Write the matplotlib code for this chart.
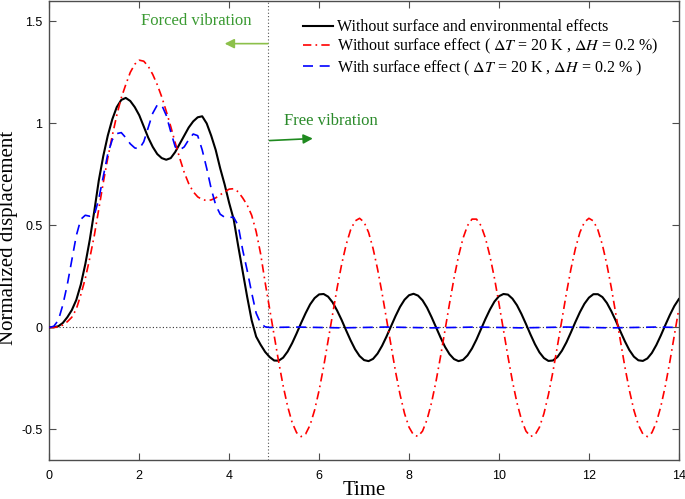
import numpy as np
import matplotlib
matplotlib.use("Agg")
import matplotlib.pyplot as plt

# === Data ===
t_black = [0.0, 0.1, 0.2, 0.3, 0.4, 0.5, 0.6, 0.7, 0.8, 0.9,
           1.0, 1.1, 1.2, 1.3, 1.4, 1.5, 1.6, 1.7, 1.8, 1.9,
           2.0, 2.1, 2.2, 2.3, 2.4, 2.5, 2.6, 2.7, 2.8, 2.9,
           3.0, 3.1, 3.2, 3.3, 3.4, 3.5, 3.6, 3.7, 3.8, 3.9,
           4.0, 4.1, 4.2, 4.3, 4.4, 4.5, 4.6, 4.7, 4.8, 4.9,
           5.0, 5.1, 5.2, 5.3, 5.4, 5.5, 5.6, 5.7, 5.8, 5.9,
           6.0, 6.1, 6.2, 6.3, 6.4, 6.5, 6.6, 6.7, 6.8, 6.9,
           7.0, 7.1, 7.2, 7.3, 7.4, 7.5, 7.6, 7.7, 7.8, 7.9,
           8.0, 8.1, 8.2, 8.3, 8.4, 8.5, 8.6, 8.7, 8.8, 8.9,
           9.0, 9.1, 9.2, 9.3, 9.4, 9.5, 9.6, 9.7, 9.8, 9.9,
           10.0, 10.1, 10.2, 10.3, 10.4, 10.5, 10.6, 10.7, 10.8, 10.9,
           11.0, 11.1, 11.2, 11.3, 11.4, 11.5, 11.6, 11.7, 11.8, 11.9,
           12.0, 12.1, 12.2, 12.3, 12.4, 12.5, 12.6, 12.7, 12.8, 12.9,
           13.0, 13.1, 13.2, 13.3, 13.4, 13.5, 13.6, 13.7, 13.8, 13.9,
           14.0]
y_black = [0.0, 0.001, 0.006, 0.022, 0.05, 0.085, 0.135, 0.21, 0.31, 0.43,
           0.57, 0.72, 0.84, 0.94, 1.02, 1.08, 1.115, 1.125, 1.11, 1.08,
           1.04, 0.985, 0.93, 0.885, 0.85, 0.83, 0.822, 0.83, 0.86, 0.9,
           0.94, 0.98, 1.01, 1.03, 1.035, 1.0, 0.94, 0.87, 0.78, 0.7,
           0.61, 0.53, 0.4, 0.275, 0.15, 0.035, -0.045, -0.085, -0.12, -0.145,
           -0.162, -0.163, -0.148, -0.118, -0.077, -0.029, 0.022, 0.07, 0.113, 0.144,
           0.162, 0.164, 0.151, 0.123, 0.083, 0.037, -0.014, -0.063, -0.107, -0.14,
           -0.16, -0.165, -0.154, -0.128, -0.09, -0.044, 0.006, 0.056, 0.101, 0.136,
           0.158, 0.165, 0.156, 0.133, 0.097, 0.051, 0.001, -0.049, -0.095, -0.131,
           -0.155, -0.165, -0.159, -0.137, -0.103, -0.059, -0.009, 0.042, 0.088, 0.127,
           0.153, 0.164, 0.161, 0.141, 0.109, 0.066, 0.017, -0.034, -0.082, -0.122,
           -0.15, -0.164, -0.162, -0.145, -0.114, -0.073, -0.024, 0.027, 0.075, 0.116,
           0.146, 0.163, 0.163, 0.149, 0.12, 0.079, 0.032, -0.019, -0.068, -0.111,
           -0.143, -0.161, -0.164, -0.152, -0.125, -0.086, -0.039, 0.012, 0.061, 0.105,
           0.139]

t_red = t_black
y_red = [0.0, 0.0, 0.003, 0.012, 0.028, 0.05, 0.09, 0.16, 0.24, 0.34,
         0.45, 0.58, 0.71, 0.83, 0.94, 1.04, 1.125, 1.19, 1.25, 1.29,
         1.31, 1.305, 1.28, 1.24, 1.19, 1.13, 1.06, 0.985, 0.905, 0.83,
         0.76, 0.705, 0.665, 0.64, 0.627, 0.622, 0.625, 0.635, 0.65, 0.665,
         0.678, 0.68, 0.665, 0.635, 0.6, 0.55, 0.47, 0.36, 0.22, 0.09,
         -0.039, -0.168, -0.286, -0.387, -0.466, -0.516, -0.535, -0.522, -0.478, -0.405,
         -0.308, -0.193, -0.065, 0.065, 0.193, 0.308, 0.405, 0.478, 0.522, 0.535,
         0.516, 0.466, 0.387, 0.286, 0.168, 0.039, -0.091, -0.217, -0.329, -0.422,
         -0.489, -0.527, -0.534, -0.508, -0.452, -0.369, -0.264, -0.143, -0.013, 0.117,
         0.241, 0.349, 0.437, 0.499, 0.531, 0.531, 0.499, 0.437, 0.349, 0.241,
         0.117, -0.013, -0.143, -0.264, -0.369, -0.452, -0.508, -0.534, -0.527, -0.489,
         -0.422, -0.329, -0.217, -0.091, 0.039, 0.168, 0.286, 0.387, 0.466, 0.516,
         0.535, 0.522, 0.478, 0.405, 0.308, 0.193, 0.065, -0.065, -0.193, -0.308,
         -0.405, -0.478, -0.522, -0.535, -0.516, -0.466, -0.387, -0.286, -0.168, -0.039,
         0.091]

t_blue = [0.0, 0.1, 0.2, 0.3, 0.4, 0.5, 0.6, 0.7, 0.8, 0.9,
          1.0, 1.1, 1.2, 1.3, 1.4, 1.5, 1.6, 1.7, 1.8, 1.9,
          2.0, 2.1, 2.2, 2.3, 2.4, 2.5, 2.6, 2.7, 2.8, 2.9,
          3.0, 3.1, 3.2, 3.3, 3.4, 3.5, 3.6, 3.7, 3.8, 3.9,
          4.0, 4.1, 4.2, 4.3, 4.4, 4.5, 4.6, 4.7, 4.8, 4.9,
          5.5, 6.5, 7.5, 8.5, 9.5, 10.5, 11.5, 12.5, 13.5, 14.0]
y_blue = [0.0, 0.006, 0.035, 0.11, 0.21, 0.33, 0.45, 0.53, 0.55, 0.545,
          0.55, 0.63, 0.74, 0.85, 0.92, 0.95, 0.955, 0.93, 0.9, 0.88,
          0.875, 0.91, 0.98, 1.05, 1.09, 1.09, 1.04, 0.96, 0.885, 0.87,
          0.885, 0.92, 0.948, 0.94, 0.87, 0.78, 0.68, 0.6, 0.555, 0.54,
          0.54, 0.54, 0.5, 0.38, 0.28, 0.17, 0.07, 0.02, 0.003, 0.0,
          0.002, -0.002, 0.002, -0.002, 0.002, -0.002, 0.002, -0.002, 0.002, 0.0]

t_switch = 4.86

labels = ["Without surface and environmental effects",
          r"Without surface effect ( $\Delta T$ = 20 K , $\Delta H$ = 0.2 %)",
          r"With surface effect ( $\Delta T$ = 20 K , $\Delta H$ = 0.2 % )"]

# === Style ===
plt.rcParams['mathtext.fontset'] = 'stix'
serif = ['Liberation Serif', 'DejaVu Serif']
sans = ['Liberation Sans', 'DejaVu Sans']
edge = '#4d4d4d'

fig = plt.figure(figsize=(6.85, 4.99), dpi=100)
ax = fig.add_axes([0.072, 0.078, 0.919, 0.92])

ax.axhline(0, color='#333333', lw=0.8, ls=(0, (1, 2)), zorder=1)
ax.axvline(t_switch, color='#555555', lw=0.8, ls=(0, (1, 2)), zorder=1)

ax.plot(t_black, y_black, color='black', lw=1.5, label=labels[0], zorder=3)
ax.plot(t_red, y_red, color='red', lw=1.2, dashes=(5, 2.5, 1, 2.5),
        label=labels[1], zorder=3)
ax.plot(t_blue, y_blue, color='blue', lw=1.2, dashes=(6, 4),
        label=labels[2], zorder=3)

ax.set_xlim(0, 14)
ax.set_ylim(-0.65, 1.6)
ax.set_xticks(range(0, 15, 2))
ax.set_yticks([-0.5, 0, 0.5, 1, 1.5])
ax.set_yticklabels(['-0.5', '0', '0.5', '1', '1.5'])
ax.tick_params(direction='in', top=True, right=True, length=5, width=0.8,
               color=edge, labelsize=9)
ax.tick_params(axis='y', pad=5)
ax.tick_params(axis='x', pad=7)
for lab in ax.get_xticklabels() + ax.get_yticklabels():
    lab.set_family(sans)
for sp in ax.spines.values():
    sp.set_color(edge)
    sp.set_linewidth(1.0)

ax.set_xlabel('Time', family=serif, fontsize=15)
ax.set_ylabel('Normalized displacement', family=serif, fontsize=15)
ax.xaxis.set_label_coords(0.5, -0.046)
ax.yaxis.set_label_coords(-0.05, 0.484)

leg = ax.legend(loc='upper left', frameon=False, prop={'family': serif, 'size': 11.5},
                handlelength=1.85, handletextpad=0.3, labelspacing=0.12,
                borderaxespad=0, borderpad=0, bbox_to_anchor=(0.403, 0.96))

# annotations
ax.text(3.26, 1.50, 'Forced vibration', color='#3a9a32', family=serif,
        fontsize=12, ha='center', va='center')
ax.annotate('', xy=(3.90, 1.391), xytext=(t_switch, 1.391),
            arrowprops=dict(arrowstyle='-|>', color='#8cc04a', lw=1.2,
                            mutation_scale=14, shrinkA=0, shrinkB=0))
ax.text(5.22, 1.01, 'Free vibration', color='#2a8a2a', family=serif,
        fontsize=12, ha='left', va='center')
ax.annotate('', xy=(5.86, 0.926), xytext=(4.9, 0.916),
            arrowprops=dict(arrowstyle='-|>', color='#1f8a1f', lw=1.2,
                            mutation_scale=14, shrinkA=0, shrinkB=0))

fig.savefig('out.png', dpi=100)
